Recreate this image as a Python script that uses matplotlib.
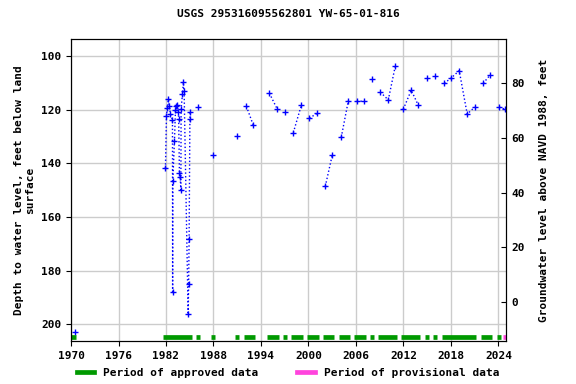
import numpy as np
import matplotlib.pyplot as plt

nan = np.nan

# water level measurements; nan marks a break in the connecting line
years = [
    1970.45, nan,
    1981.93, 1982.06, 1982.15, 1982.31, 1982.40, 1982.56, 1982.82, 1982.84,
    1982.86, 1983.07, 1983.20, 1983.28, 1983.40, 1983.57, 1983.60, 1983.70,
    1983.79, 1983.88, 1983.91, 1984.08, 1984.20, 1984.29, 1984.80, 1984.86,
    1984.92, 1985.02, 1985.05, nan,
    1986.10, nan, 1988.00, nan, 1991.00, nan, 1992.16, 1993.04, nan,
    1995.06, 1996.07, nan, 1997.08, nan, 1998.09, 1999.10, nan,
    2000.11, 2001.12, nan, 2002.13, 2003.00, nan, 2004.15, 2005.04, nan,
    2006.10, 2007.06, nan, 2008.07, nan, 2009.08, 2010.09, 2010.97, nan,
    2011.98, 2012.99, 2013.88, nan, 2015.01, nan, 2016.02, nan,
    2017.16, 2017.97, 2019.05, 2020.06, 2021.00, nan, 2022.08, 2022.97, nan,
    2024.10, 2024.86,
]
depth = [
    203.0, nan,
    141.8, 122.3, 119.4, 116.0, 118.5, 121.5, 123.8, 187.8,
    146.4, 131.6, 120.0, 118.5, 118.2, 120.8, 123.4, 143.7,
    144.9, 149.9, 119.7, 114.2, 109.8, 113.0, 196.3, 185.1,
    168.3, 123.5, 120.7, nan,
    119.0, nan, 137.0, nan, 129.9, nan, 118.7, 125.8, nan,
    113.8, 119.8, nan, 120.9, nan, 128.5, 118.3, nan,
    123.1, 121.3, nan, 148.5, 137.0, nan, 130.2, 116.6, nan,
    116.8, 116.8, nan, 108.6, nan, 113.4, 116.3, 103.7, nan,
    119.8, 112.7, 118.3, nan, 108.2, nan, 107.5, nan,
    110.1, 108.3, 105.4, 121.6, 119.0, nan, 110.1, 107.0, nan,
    119.0, 119.8,
]

# periods of approved / provisional data (start, end)
approved = [
    (1970.06, 1970.65), (1981.64, 1985.27), (1985.8, 1986.3), (1987.7, 1988.2),
    (1990.7, 1991.2), (1991.86, 1993.25), (1994.77, 1996.29), (1996.8, 1997.3),
    (1997.8, 1999.3), (1999.8, 2001.3), (2001.8, 2003.2), (2003.9, 2005.2),
    (2005.76, 2007.27), (2007.8, 2008.3), (2008.8, 2011.2), (2011.7, 2014.1),
    (2014.7, 2015.2), (2015.7, 2016.2), (2016.9, 2021.2), (2021.8, 2023.2),
    (2023.8, 2024.3),
]
provisional = [(2024.55, 2025.0)]

font = {'family': 'DejaVu Sans Mono', 'weight': 'bold', 'size': 8}
plt.rcParams['font.family'] = 'DejaVu Sans Mono'
plt.rcParams['font.weight'] = 'bold'
plt.rcParams['font.size'] = 8

fig = plt.figure(figsize=(5.76, 3.84), dpi=100)
ax = fig.add_axes([0.1233, 0.112, 0.7557, 0.7857])

ax.plot(years, depth, color='blue', linestyle=':', linewidth=1,
        marker='+', markersize=4, markeredgewidth=1)

for a, b in approved:
    ax.plot([a, b], [204.6, 204.6], color='#009900', linewidth=3.4,
            solid_capstyle='butt')
for a, b in provisional:
    ax.plot([a, b], [204.6, 204.6], color='#ff44dd', linewidth=3.4,
            solid_capstyle='butt')

ax.set_xlim(1970, 2025)
ax.set_ylim(206.2, 93.7)
ax.set_xticks(range(1970, 2025, 6))
ax.set_yticks(range(100, 201, 20))
ax.grid(True, color='#cccccc', linewidth=1)
ax.set_axisbelow(True)
ax.set_ylabel('Depth to water level, feet below land\nsurface', fontdict=font)
ax.set_title('USGS 295316095562801 YW-65-01-816', fontdict=font, pad=16)

ax2 = ax.twinx()
ax2.set_ylim(-14.2, 96.0)
ax2.set_yticks(range(0, 81, 20))
ax2.tick_params(axis='y', direction='in')
ax2.set_ylabel('Groundwater level above NAVD 1988, feet', fontdict=font,
               labelpad=10)

handles = [plt.Line2D([], [], color='#009900', linewidth=3.4),
           plt.Line2D([], [], color='#ff44dd', linewidth=3.4)]
fig.legend(handles, ['Period of approved data', 'Period of provisional data'],
           loc='lower center', ncol=2, frameon=False, bbox_to_anchor=(0.5, -0.01),
           handlelength=1.6, columnspacing=3.5, prop=font)

fig.savefig('out.png', dpi=100)
